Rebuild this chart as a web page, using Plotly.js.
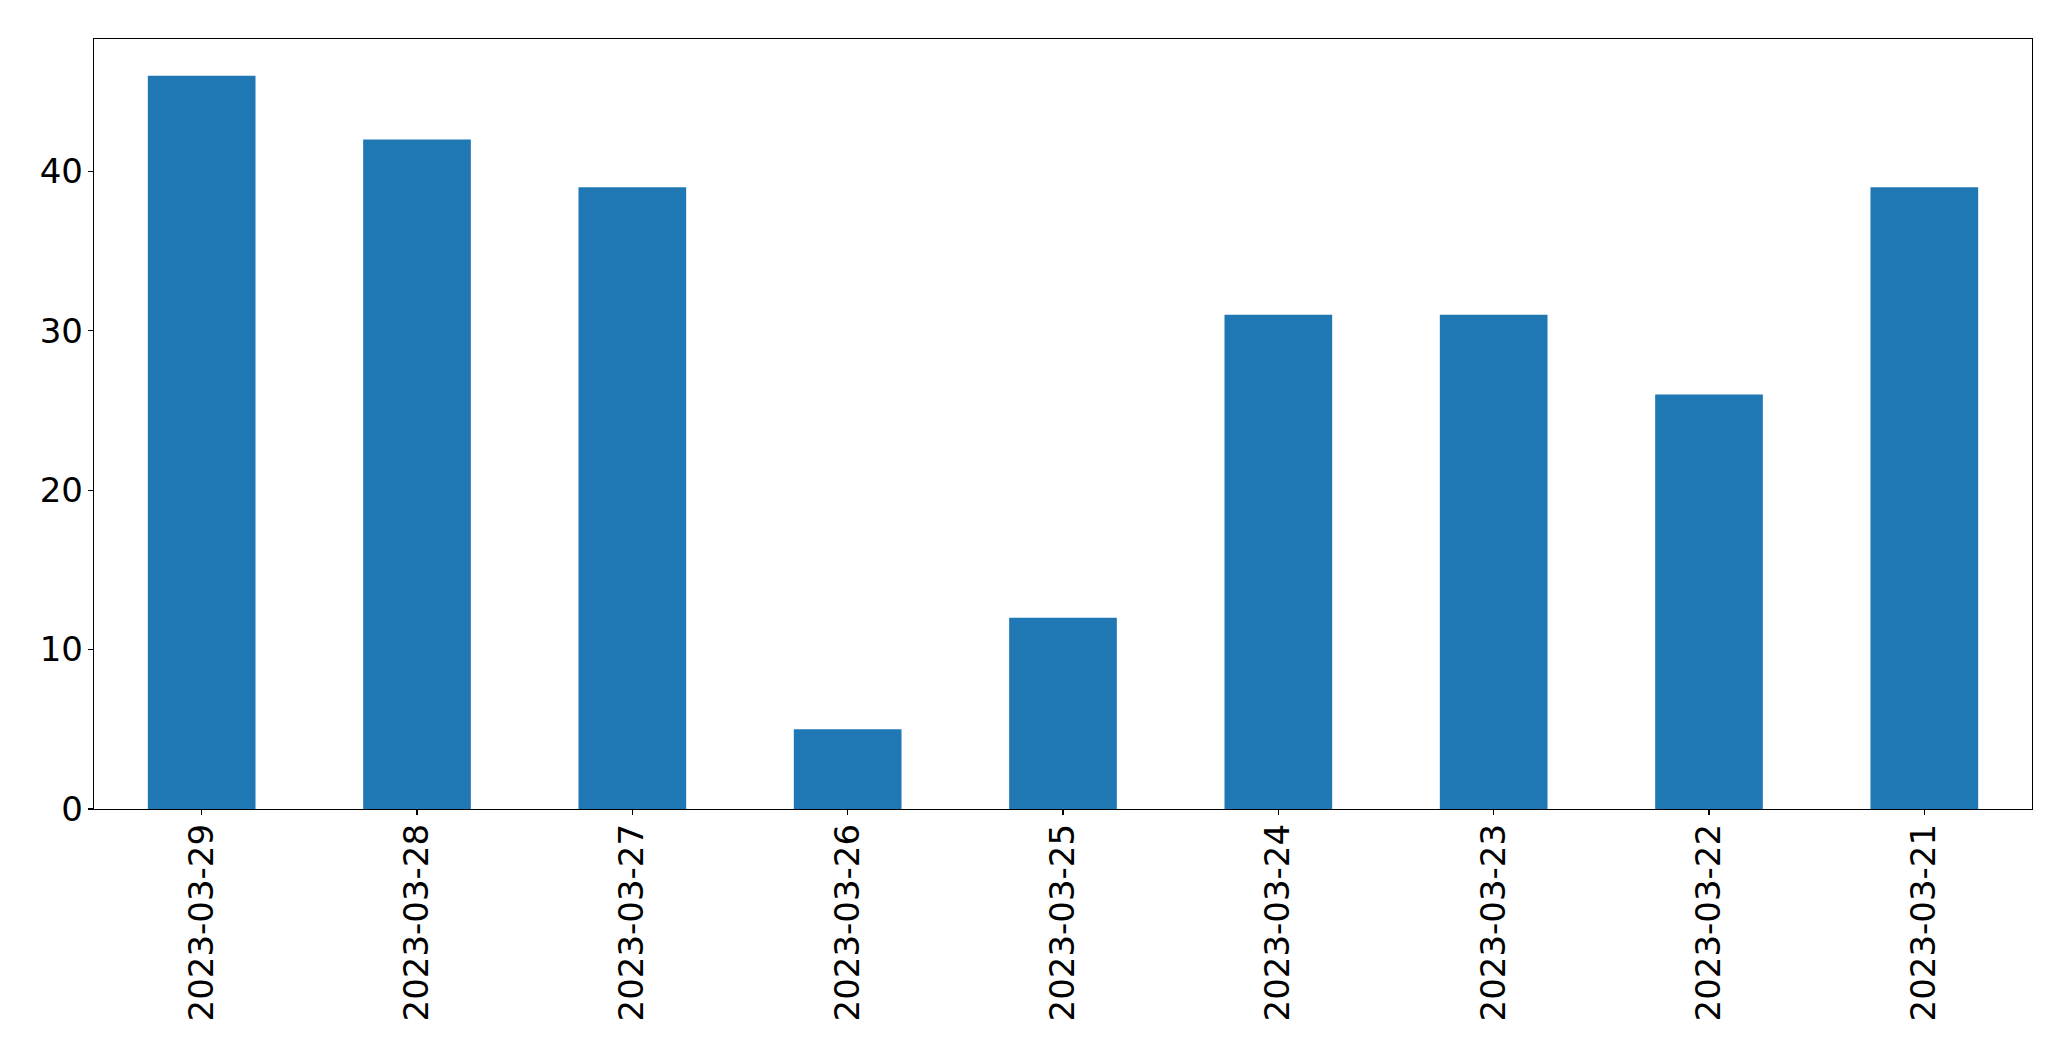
<!DOCTYPE html>
<html>
<head>
<meta charset="utf-8">
<script src="https://cdn.plot.ly/plotly-3.0.1.min.js"></script>
<style>html,body{margin:0;padding:0;background:#fff;}#chart{width:2071px;height:1061px;}</style>
</head>
<body>
<div id="chart"></div>
<script>
const categories = ["2023-03-29","2023-03-28","2023-03-27","2023-03-26","2023-03-25","2023-03-24","2023-03-23","2023-03-22","2023-03-21"];
const values = [46, 42, 39, 5, 12, 31, 31, 26, 39];
const yTicks = [0, 10, 20, 30, 40];

const trace = {
  type: 'bar',
  x: categories,
  y: values,
  marker: {color: '#1f77b4', line: {width: 0}},
  hoverinfo: 'x+y'
};

const font = {family: 'DejaVu Sans, sans-serif', size: 34, color: '#000'};

const layout = {
  width: 2071,
  height: 1061,
  margin: {l: 94, r: 39, t: 39, b: 252, pad: 0},
  paper_bgcolor: '#fff',
  plot_bgcolor: '#fff',
  showlegend: false,
  bargap: 0.5,
  font: font,
  xaxis: {
    type: 'category',
    range: [-0.5, 8.5],
    tickangle: -90,
    ticks: 'outside',
    ticklen: 5,
    tickwidth: 1.3,
    tickcolor: '#000',
    showline: true,
    linecolor: '#000',
    linewidth: 1.3,
    mirror: true,
    showgrid: false,
    zeroline: false,
    tickfont: font,
    ticklabelstandoff: -5
  },
  yaxis: {
    range: [0, 48.3],
    tickmode: 'array',
    tickvals: yTicks,
    ticktext: yTicks.map(String),
    ticks: 'outside',
    ticklen: 5,
    tickwidth: 1.3,
    tickcolor: '#000',
    showline: true,
    linecolor: '#000',
    linewidth: 1.3,
    mirror: true,
    showgrid: false,
    zeroline: false,
    tickfont: font,
    ticklabelstandoff: -2
  }
};

Plotly.newPlot('chart', [trace], layout, {displayModeBar: false, staticPlot: true});
</script>
</body>
</html>
